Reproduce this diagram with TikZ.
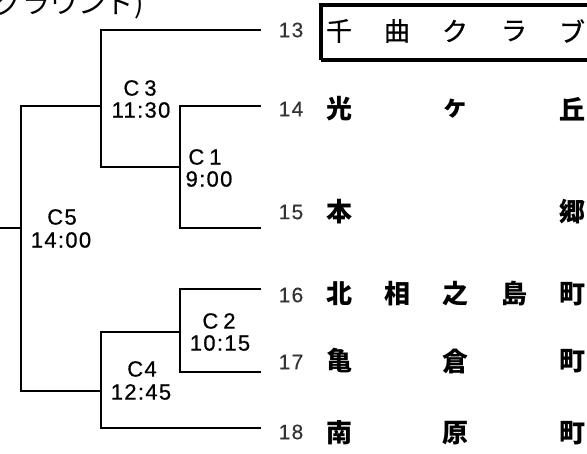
\documentclass[tikz,border=0pt]{standalone}
\usepackage{fontspec}
\setmainfont{Liberation Sans}
\newfontfamily\jp{Noto Sans CJK JP}
\begin{document}
\begin{tikzpicture}[x=1pt,y=-1pt,
  bl/.style={line width=2pt, line cap=rect},
  lbl/.style={inner sep=0pt, font=\fontsize{22}{22}\selectfont\addfontfeature{LetterSpace=6,FakeBold=0.7}},
  num/.style={inner sep=0pt, text=black!80, font=\fontsize{21}{21}\selectfont\addfontfeature{LetterSpace=6,FakeBold=0.3}},
  nm/.style={inner sep=0pt, font=\jp\bfseries\fontsize{26}{26}\selectfont},
  ttl/.style={inner sep=0pt, anchor=base west, font=\jp\fontsize{28}{28}\selectfont}]
\useasboundingbox (0,0) rectangle (587,453);
% title (cut off at the top)
\node[ttl] (title) at (-6,13.5) {グラウンド)};
% entry ends
\coordinate (e13) at (260,30);
\coordinate (e14) at (260,106);
\coordinate (e15) at (260,228);
\coordinate (e16) at (260,289);
\coordinate (e17) at (260,372);
\coordinate (e18) at (260,428);
% match points
\coordinate (m1) at (180,167);
\coordinate (m3) at (101,106);
\coordinate (m2) at (180,332);
\coordinate (m4) at (101,391);
\coordinate (m5) at (21,228);
\coordinate (root) at (-2,228);
% bracket lines
\draw[bl] (e14) -| (m1) |- (e15);
\draw[bl] (e13) -| (m3) |- (m1);
\draw[bl] (e16) -| (m2) |- (e17);
\draw[bl] (m2) -| (m4) |- (e18);
\draw[bl] (m3) -| (m5) |- (m4);
\draw[bl] (m5) -- (root);
% match labels
\node[lbl] (c3a) at (140,88) {C\hspace{5pt}3};
\node[lbl] (c3b) at (141,110) {11:30};
\node[lbl] (c1a) at (205,157) {C\hspace{5pt}1};
\node[lbl] (c1b) at (209,179) {9:00};
\node[lbl] (c5a) at (62,217) {C5};
\node[lbl] (c5b) at (61,240) {14:00};
\node[lbl] (c2a) at (219,321) {C\hspace{5pt}2};
\node[lbl] (c2b) at (220,343) {10:15};
\node[lbl] (c4a) at (142,369) {C4};
\node[lbl] (c4b) at (141,392) {12:45};
% entry numbers
\node[num] (n13) at (291,30) {13};
\node[num] (n14) at (291,109) {14};
\node[num] (n15) at (291,212) {15};
\node[num] (n16) at (291,295) {16};
\node[num] (n17) at (291,362) {17};
\node[num] (n18) at (291,432) {18};
% team names
\foreach \c/\x [count=\i] in {千/339,曲/397,ク/455,ラ/514,ブ/572}
  \node[nm, font=\jp\fontsize{26}{26}\selectfont\addfontfeature{FakeBold=0.8}] (a\i) at (\x,31) {\c};
\foreach \c/\x [count=\i] in {光/339,ヶ/455,丘/572}
  \node[nm] (b\i) at (\x,109) {\c};
\foreach \c/\x [count=\i] in {本/339,郷/572}
  \node[nm] (c\i) at (\x,212) {\c};
\foreach \c/\x [count=\i] in {北/339,相/397,之/455,島/514,町/572}
  \node[nm] (d\i) at (\x,294) {\c};
\foreach \c/\x [count=\i] in {亀/339,倉/455,町/572}
  \node[nm] (f\i) at (\x,361) {\c};
\foreach \c/\x [count=\i] in {南/339,原/455,町/572}
  \node[nm] (g\i) at (\x,433) {\c};
% highlight box round entry 13
\draw[line width=4pt] (321,60) -- (321,5) -- (600,5) (321,60) -- (600,60);
\end{tikzpicture}
\end{document}
